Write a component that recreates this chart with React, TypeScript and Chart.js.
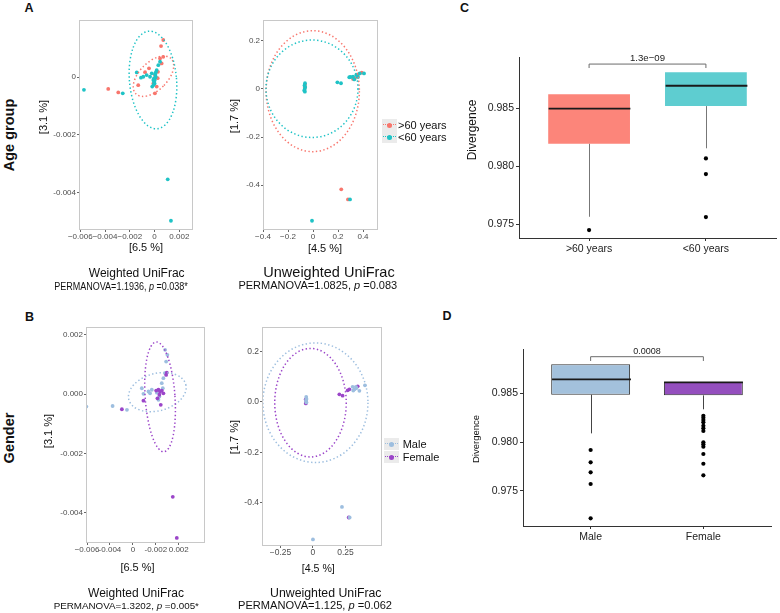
import React, { useEffect, useRef } from "react";
import { Chart, registerables } from "chart.js";
Chart.register(...registerables);

const FONT = "'Liberation Sans', Arial, Helvetica, sans-serif";

// ---------------- Panel A: age group, weighted UniFrac ----------------
const ageWOver60X = [-0.00374, -0.00293, 0.0007, 0.00052, 0.0007, 0.00044, 0.00027, -0.00045, 0.00003, 0.00025, -0.00132, -0.0001, 0.00017, 0.00003, 0.00057, -0.00077];
const ageWOver60Y = [-0.00041, -0.00053, 0.00128, 0.00107, 0.0007, 0.00064, 0.00018, 0.0003, 0.00007, -0.00004, -0.00028, -0.00022, -0.00033, -0.00056, 0.00047, 0.00017];
const ageWUnder60X = [-0.0057, -0.00257, -0.00144, -0.0011, -0.00091, -0.00064, -0.00037, -0.00023, -0.0001, 0.0, -0.00019, 0.00003, -0.00005, 0.00009, 0.00017, 0.0003, 0.00044, -0.00005, 0.0, -0.00008, 0.00005, 0.0001, 0.00106, 0.00132];
const ageWUnder60Y = [-0.00044, -0.00056, 0.00016, -0.00002, 0.00001, 0.00007, 0.00001, 0.00013, -0.0001, -0.00022, -0.00033, -0.00004, -0.00016, 0.00001, 0.00024, 0.00041, 0.00053, -0.00005, -0.00012, -0.00027, 0.0001, 0.00017, -0.00353, -0.00496];
const ageWXTicks = [-0.006, -0.004, -0.002, 0, 0.002];
const ageWXLabels = ["\u22120.006", "\u22120.004", "\u22120.002", "0", "0.002"];
const ageWYTicks = [0, -0.002, -0.004];
const ageWYLabels = ["0", "-0.002", "-0.004"];
// stat_ellipse summaries: [>60, <60]
const ageWEllCX = [-0.00009, -0.00013];
const ageWEllCY = [0.00003, -0.0001];
const ageWEllRX = [0.00113, 0.0019];
const ageWEllRY = [0.00086, 0.00169];
const ageWEllRot = [45, -5];

// ---------------- Panel A: age group, unweighted UniFrac ----------------
const ageUOver60X = [-0.066, -0.064, 0.334, 0.36, 0.32, 0.39, 0.226, 0.28];
const ageUOver60Y = [0.005, 0.018, 0.045, 0.061, 0.042, 0.068, -0.418, -0.46];
const ageUUnder60X = [-0.064, -0.068, -0.062, -0.066, -0.07, -0.065, 0.195, 0.224, 0.29, 0.32, 0.346, 0.374, 0.408, 0.33, 0.36, 0.3, 0.296, -0.008];
const ageUUnder60Y = [0.024, 0.015, 0.008, 0.0, -0.006, -0.011, 0.028, 0.024, 0.049, 0.051, 0.058, 0.065, 0.065, 0.04, 0.05, 0.05, -0.46, -0.549];
const ageUXTicks = [-0.4, -0.2, 0, 0.2, 0.4];
const ageUXLabels = ["\u22120.4", "\u22120.2", "0", "0.2", "0.4"];
const ageUYTicks = [0.2, 0, -0.2, -0.4];
const ageUYLabels = ["0.2", "0", "-0.2", "-0.4"];
const ageUEllCX = [-0.002, -0.008];
const ageUEllCY = [-0.009, 0.001];
const ageUEllRX = [0.373, 0.368];
const ageUEllRY = [0.252, 0.203];
const ageUEllRot = [0, 0];

// ---------------- Panel B: gender, weighted UniFrac ----------------
const genWMaleX = [-0.00606, -0.00377, -0.00252, -0.00122, -0.00108, -0.00064, -0.0005, -0.00035, 0.00009, 0.00023, 0.00031, 0.00052, 0.00061, 0.00066, 0.00081, 0.0009, 0.00101, 0.00081];
const genWMaleY = [-0.00042, -0.0004, -0.00053, 0.0002, 0.00001, 0.00009, 0.00003, 0.00015, 0.00005, -0.00019, -0.00008, 0.00037, 0.0002, 0.00054, 0.00071, 0.0011, 0.00133, 0.0015];
const genWFemaleX = [-0.00296, -0.00108, 0.00003, 0.00014, 0.00023, 0.00031, 0.00037, 0.00043, 0.00052, 0.00066, 0.0009, 0.00096, 0.00148, 0.00183];
const genWFemaleY = [-0.00051, -0.00022, 0.00012, -0.00014, 0.00015, -0.00002, 0.00009, -0.00036, 0.00012, 0.00003, 0.00065, 0.00073, -0.00347, -0.00486];
const genWXTicks = [-0.006, -0.004, -0.002, 0, 0.002];
const genWXLabels = ["\u22120.006", "-0.004", "0", "-0.002", "0.002"];
const genWYTicks = [0.002, 0, -0.002, -0.004];
const genWYLabels = ["0.002", "0.000", "-0.002", "-0.004"];
// [Male, Female]
const genWEllCX = [0.00013, 0.00037];
const genWEllCY = [0.00007, -0.00009];
const genWEllRX = [0.00257, 0.0013];
const genWEllRY = [0.00063, 0.00186];
const genWEllRot = [-15, -4];

// ---------------- Panel B: gender, unweighted UniFrac ----------------
const genUMaleX = [-0.052, -0.05, -0.054, -0.05, 0.305, 0.32, 0.335, 0.357, 0.31, 0.4, 0.33, 0.223, 0.282, 0.0];
const genUMaleY = [0.02, 0.012, 0.005, -0.002, 0.06, 0.05, 0.055, 0.044, 0.045, 0.066, 0.06, -0.416, -0.458, -0.545];
const genUFemaleX = [-0.055, -0.053, -0.056, 0.203, 0.228, 0.267, 0.28, 0.344, 0.275];
const genUFemaleY = [-0.006, 0.0, 0.01, 0.03, 0.025, 0.046, 0.05, 0.062, -0.458];
const genUXTicks = [-0.25, 0, 0.25];
const genUXLabels = ["\u22120.25", "0", "0.25"];
const genUYTicks = [0.2, 0, -0.2, -0.4];
const genUYLabels = ["0.2", "0.0", "-0.2", "-0.4"];
const genUEllCX = [0.019, -0.019];
const genUEllCY = [-0.003, -0.003];
const genUEllRX = [0.404, 0.275];
const genUEllRY = [0.237, 0.215];
const genUEllRot = [0, 0];

// ---------------- Panel C: divergence by age ----------------
const ageGroups = [">60 years", "<60 years"];
const ageQ1 = [0.98192, 0.98517];
const ageMedian = [0.98495, 0.98692];
const ageQ3 = [0.98618, 0.98808];
const ageWhiskerLow = [0.97563, 0.98153];
const ageWhiskerHigh = [0.98618, 0.98808];
const ageOutliersOver60 = [0.97448];
const ageOutliersUnder60 = [0.98066, 0.97931, 0.9756];
const agePLabel = "1.3e\u221209";

// ---------------- Panel D: divergence by gender ----------------
const genderGroups = ["Male", "Female"];
const genderQ1 = [0.98486, 0.98479];
const genderMedian = [0.98644, 0.98612];
const genderQ3 = [0.98798, 0.98616];
const genderWhiskerLow = [0.98089, 0.98336];
const genderWhiskerHigh = [0.98798, 0.98616];
const genderOutliersMale = [0.97918, 0.97792, 0.97689, 0.97569, 0.97217];
const genderOutliersFemale = [0.9827, 0.98249, 0.98226, 0.98202, 0.98167, 0.98141, 0.98113, 0.97997, 0.97976, 0.97952, 0.97877, 0.97777, 0.97658];
const genderPLabel = "0.0008";

const divTicks = [0.975, 0.98, 0.985];
const divLabels = ["0.975", "0.980", "0.985"];

// colours
const SALMON = "#F8766D";
const TEAL = "#1FC3C6";
const MALE = "#9DBEDF";
const FEMALE = "#9B45C9";

type Area = { l: number; t: number; r: number; b: number };
type Ell = { cx: number; cy: number; rx: number; ry: number; rot: number; color: string };

function buildEllipses(cx: number[], cy: number[], rx: number[], ry: number[], rot: number[], colors: string[]): Ell[] {
  return cx.map((v, i) => ({ cx: v, cy: cy[i], rx: rx[i], ry: ry[i], rot: rot[i], color: colors[i] }));
}

const PAD = { top: 8, right: 4, bottom: 4, left: 2 };

function ScatterPanel(props: {
  area: Area; xMin: number; xMax: number; yMin: number; yMax: number;
  xTicks: number[]; xLabels: string[]; yTicks: number[]; yLabels: string[];
  series: { xs: number[]; ys: number[]; color: string }[];
  ellipses: Ell[]; tickSize: number;
}) {
  const ref = useRef<HTMLCanvasElement>(null);
  const axW = 36, axH = 16;
  const { area } = props;
  const w = PAD.left + axW + (area.r - area.l) + PAD.right;
  const h = PAD.top + (area.b - area.t) + axH + PAD.bottom;
  const left = area.l - axW - PAD.left;
  const top = area.t - PAD.top;
  useEffect(() => {
    const decor = {
      id: "scatterDecor",
      afterDatasetsDraw(chart: any) {
        const { ctx, chartArea: a, scales } = chart;
        const xs = scales.x, ys = scales.y;
        ctx.save();
        ctx.beginPath();
        ctx.rect(a.left, a.top, a.right - a.left, a.bottom - a.top);
        ctx.clip();
        for (const e of props.ellipses) {
          const cx = xs.getPixelForValue(e.cx), cy = ys.getPixelForValue(e.cy);
          const rx = Math.abs(xs.getPixelForValue(e.cx + e.rx) - cx);
          const ry = Math.abs(ys.getPixelForValue(e.cy + e.ry) - cy);
          ctx.beginPath();
          ctx.ellipse(cx, cy, rx, ry, (e.rot * Math.PI) / 180, 0, Math.PI * 2);
          ctx.setLineDash([1.4, 2.4]);
          ctx.lineWidth = 1.5;
          ctx.strokeStyle = e.color;
          ctx.stroke();
        }
        ctx.restore();
        ctx.save();
        ctx.strokeStyle = "#C8C8C8";
        ctx.lineWidth = 1;
        ctx.strokeRect(a.left + 0.5, a.top + 0.5, a.right - a.left - 1, a.bottom - a.top - 1);
        ctx.restore();
      },
    };
    const tickFont = { family: FONT, size: props.tickSize };
    const chart = new Chart(ref.current as HTMLCanvasElement, {
      type: "scatter",
      data: {
        datasets: props.series.map((s) => ({
          data: s.xs.map((x, i) => ({ x, y: s.ys[i] })),
          backgroundColor: s.color,
          borderWidth: 0,
          pointRadius: 1.9,
        })),
      },
      options: {
        responsive: false,
        animation: false,
        events: [],
        layout: { padding: PAD },
        plugins: { legend: { display: false }, tooltip: { enabled: false } },
        scales: {
          x: {
            type: "linear", min: props.xMin, max: props.xMax,
            afterFit: (s: any) => { s.height = axH; s.paddingLeft = 0; s.paddingRight = 0; },
            afterBuildTicks: (s: any) => { s.ticks = props.xTicks.map((v) => ({ value: v })); },
            ticks: { autoSkip: false, maxRotation: 0, padding: 0, color: "#4D4D4D", font: tickFont, callback: (_v: any, i: number) => props.xLabels[i] },
            grid: { drawOnChartArea: false, drawTicks: true, tickLength: 2, tickColor: "#666" },
            border: { display: false },
          },
          y: {
            type: "linear", min: props.yMin, max: props.yMax,
            afterFit: (s: any) => { s.width = axW; s.paddingTop = 0; s.paddingBottom = 0; },
            afterBuildTicks: (s: any) => { s.ticks = props.yTicks.map((v) => ({ value: v })); },
            ticks: { autoSkip: false, padding: 1, color: "#4D4D4D", font: tickFont, callback: (_v: any, i: number) => props.yLabels[i] },
            grid: { drawOnChartArea: false, drawTicks: true, tickLength: 2, tickColor: "#666" },
            border: { display: false },
          },
        },
      } as any,
      plugins: [decor],
    });
    return () => chart.destroy();
  }, []);
  return <canvas ref={ref} width={w} height={h} style={{ position: "absolute", left, top, width: w, height: h }} />;
}

function BoxPanel(props: {
  area: Area; groups: string[]; q1: number[]; med: number[]; q3: number[]; wLo: number[]; wHi: number[];
  outliers: number[][]; fills: string[]; stroke: string | null; whisker: string;
  yMin: number; yMax: number; bracketY: number; bracketEnd: number; pLabel: string; pSize: number;
}) {
  const ref = useRef<HTMLCanvasElement>(null);
  const axW = 44, axH = 24;
  const { area } = props;
  const pad = { top: 12, right: 2, bottom: 4, left: 2 };
  const w = pad.left + axW + (area.r - area.l) + pad.right;
  const h = pad.top + (area.b - area.t) + axH + pad.bottom;
  const left = area.l - axW - pad.left;
  const top = area.t - pad.top;
  useEffect(() => {
    const decor = {
      id: "boxDecor",
      afterDatasetsDraw(chart: any) {
        const { ctx, scales } = chart;
        const xs = scales.x, ys = scales.y;
        const bars = chart.getDatasetMeta(0).data;
        ctx.save();
        props.groups.forEach((_g, i) => {
          const x = Math.round(xs.getPixelForValue(i + 1)) + 0.5;
          const hw = bars[i].width / 2;
          ctx.strokeStyle = props.whisker;
          ctx.lineWidth = 1;
          ctx.beginPath();
          ctx.moveTo(x, ys.getPixelForValue(props.q1[i]));
          ctx.lineTo(x, ys.getPixelForValue(props.wLo[i]));
          ctx.moveTo(x, ys.getPixelForValue(props.q3[i]));
          ctx.lineTo(x, ys.getPixelForValue(props.wHi[i]));
          ctx.stroke();
          ctx.strokeStyle = "#1a1a1a";
          ctx.lineWidth = 1.8;
          ctx.beginPath();
          const ym = ys.getPixelForValue(props.med[i]);
          ctx.moveTo(x - hw, ym);
          ctx.lineTo(x + hw, ym);
          ctx.stroke();
        });
        const x1 = xs.getPixelForValue(1), x2 = xs.getPixelForValue(2);
        const yb = ys.getPixelForValue(props.bracketY), ye = ys.getPixelForValue(props.bracketEnd);
        ctx.strokeStyle = "#6b6b6b";
        ctx.lineWidth = 1;
        ctx.beginPath();
        ctx.moveTo(x1, ye); ctx.lineTo(x1, yb); ctx.lineTo(x2, yb); ctx.lineTo(x2, ye);
        ctx.stroke();
        ctx.fillStyle = "#222";
        ctx.font = `${props.pSize}px ${FONT}`;
        ctx.textAlign = "center";
        ctx.textBaseline = "bottom";
        ctx.fillText(props.pLabel, (x1 + x2) / 2, yb - 1);
        ctx.restore();
      },
    };
    const tickFont = { family: FONT, size: 10.5 };
    const outlierData: { x: number; y: number }[] = [];
    props.outliers.forEach((arr, i) => arr.forEach((v) => outlierData.push({ x: i + 1, y: v })));
    const chart = new Chart(ref.current as HTMLCanvasElement, {
      type: "bar",
      data: {
        datasets: [
          {
            type: "bar",
            data: props.groups.map((_g, i) => ({ x: i + 1, y: [props.q1[i], props.q3[i]] })),
            backgroundColor: props.fills,
            borderColor: props.stroke || "rgba(0,0,0,0)",
            borderWidth: props.stroke ? 1 : 0,
            borderSkipped: false,
            barPercentage: 0.7,
            categoryPercentage: 1,
            grouped: false,
          },
          {
            type: "scatter",
            data: outlierData,
            backgroundColor: "#000",
            borderWidth: 0,
            pointRadius: 2.1,
          },
        ],
      },
      options: {
        responsive: false,
        animation: false,
        events: [],
        layout: { padding: pad },
        plugins: { legend: { display: false }, tooltip: { enabled: false } },
        scales: {
          x: {
            type: "linear", min: 0.4, max: 2.6, offset: false,
            afterFit: (s: any) => { s.height = axH; s.paddingLeft = 0; s.paddingRight = 0; },
            afterBuildTicks: (s: any) => { s.ticks = props.groups.map((_g, i) => ({ value: i + 1 })); },
            ticks: { autoSkip: false, maxRotation: 0, padding: 2, color: "#222", font: tickFont, callback: (_v: any, i: number) => props.groups[i] },
            grid: { offset: false, drawOnChartArea: false, drawTicks: true, tickLength: 3, tickColor: "#333" },
            border: { display: true, color: "#333", width: 1 },
          },
          y: {
            type: "linear", min: props.yMin, max: props.yMax,
            afterFit: (s: any) => { s.width = axW; s.paddingTop = 0; s.paddingBottom = 0; },
            afterBuildTicks: (s: any) => { s.ticks = divTicks.map((v) => ({ value: v })); },
            ticks: { autoSkip: false, padding: 2, color: "#222", font: tickFont, callback: (_v: any, i: number) => divLabels[i] },
            grid: { drawOnChartArea: false, drawTicks: true, tickLength: 3, tickColor: "#333" },
            border: { display: true, color: "#333", width: 1 },
          },
        },
      } as any,
      plugins: [decor],
    });
    return () => chart.destroy();
  }, []);
  return <canvas ref={ref} width={w} height={h} style={{ position: "absolute", left, top, width: w, height: h }} />;
}

function T(p: { x: number; y: number; size: number; bold?: boolean; rot?: boolean; sx?: number; children: React.ReactNode }) {
  const tr = `translate(-50%,-50%)${p.rot ? " rotate(-90deg)" : ""}${p.sx ? ` scaleX(${p.sx})` : ""}`;
  return (
    <div style={{ position: "absolute", left: p.x, top: p.y, transform: tr, fontSize: p.size, fontWeight: p.bold ? 700 : 400, whiteSpace: "nowrap", lineHeight: 1, color: "#111" }}>
      {p.children}
    </div>
  );
}

function LegendKey(p: { x: number; y: number; color: string }) {
  return (
    <div style={{ position: "absolute", left: p.x - 7.5, top: p.y - 6, width: 15, height: 12, background: "#EBEBEB" }}>
      <div style={{ position: "absolute", left: 1, right: 1, top: 5, borderTop: `1.5px dotted ${p.color}` }} />
      <div style={{ position: "absolute", left: 5, top: 3.5, width: 5, height: 5, borderRadius: "50%", background: p.color }} />
    </div>
  );
}

export default function App() {
  return (
    <div style={{ position: "fixed", left: 0, top: 0, width: 780, height: 613, background: "#fff", overflow: "hidden", fontFamily: FONT }}>
      <ScatterPanel
        area={{ l: 79, t: 20, r: 193, b: 230 }}
        xMin={-0.0061} xMax={0.0031} yMin={-0.00528} yMax={0.00197}
        xTicks={ageWXTicks} xLabels={ageWXLabels} yTicks={ageWYTicks} yLabels={ageWYLabels}
        series={[{ xs: ageWUnder60X, ys: ageWUnder60Y, color: TEAL }, { xs: ageWOver60X, ys: ageWOver60Y, color: SALMON }]}
        ellipses={buildEllipses(ageWEllCX, ageWEllCY, ageWEllRX, ageWEllRY, ageWEllRot, [SALMON, TEAL])}
        tickSize={8}
      />
      <ScatterPanel
        area={{ l: 263, t: 20, r: 378, b: 230 }}
        xMin={-0.4} xMax={0.52} yMin={-0.5875} yMax={0.2875}
        xTicks={ageUXTicks} xLabels={ageUXLabels} yTicks={ageUYTicks} yLabels={ageUYLabels}
        series={[{ xs: ageUUnder60X, ys: ageUUnder60Y, color: TEAL }, { xs: ageUOver60X, ys: ageUOver60Y, color: SALMON }]}
        ellipses={buildEllipses(ageUEllCX, ageUEllCY, ageUEllRX, ageUEllRY, ageUEllRot, [SALMON, TEAL])}
        tickSize={8}
      />
      <ScatterPanel
        area={{ l: 86, t: 327, r: 205, b: 543 }}
        xMin={-0.00609} xMax={0.00429} yMin={-0.00503} yMax={0.00227}
        xTicks={genWXTicks} xLabels={genWXLabels} yTicks={genWYTicks} yLabels={genWYLabels}
        series={[{ xs: genWFemaleX, ys: genWFemaleY, color: FEMALE }, { xs: genWMaleX, ys: genWMaleY, color: MALE }]}
        ellipses={buildEllipses(genWEllCX, genWEllCY, genWEllRX, genWEllRY, genWEllRot, [MALE, FEMALE])}
        tickSize={8}
      />
      <ScatterPanel
        area={{ l: 262, t: 327, r: 382, b: 546 }}
        xMin={-0.392} xMax={0.531} yMin={-0.571} yMax={0.297}
        xTicks={genUXTicks} xLabels={genUXLabels} yTicks={genUYTicks} yLabels={genUYLabels}
        series={[{ xs: genUMaleX, ys: genUMaleY, color: MALE }, { xs: genUFemaleX, ys: genUFemaleY, color: FEMALE }]}
        ellipses={buildEllipses(genUEllCX, genUEllCY, genUEllRX, genUEllRY, genUEllRot, [MALE, FEMALE])}
        tickSize={8.5}
      />
      <BoxPanel
        area={{ l: 519, t: 57, r: 778, b: 238 }}
        groups={ageGroups} q1={ageQ1} med={ageMedian} q3={ageQ3} wLo={ageWhiskerLow} wHi={ageWhiskerHigh}
        outliers={[ageOutliersOver60, ageOutliersUnder60]}
        fills={["#FC857A", "#5ECDD0"]} stroke={null} whisker="#777"
        yMin={0.9738} yMax={0.9894} bracketY={0.98879} bracketEnd={0.98845} pLabel={agePLabel} pSize={9.6}
      />
      <BoxPanel
        area={{ l: 523, t: 349, r: 773, b: 526 }}
        groups={genderGroups} q1={genderQ1} med={genderMedian} q3={genderQ3} wLo={genderWhiskerLow} wHi={genderWhiskerHigh}
        outliers={[genderOutliersMale, genderOutliersFemale]}
        fills={["#A3C1DC", "#944FBE"]} stroke="#333" whisker="#444"
        yMin={0.97138} yMax={0.98955} bracketY={0.98876} bracketEnd={0.98832} pLabel={genderPLabel} pSize={9}
      />

      {/* panel letters and row titles */}
      <T x={29} y={8} size={12.5} bold>A</T>
      <T x={29.5} y={317} size={12.5} bold>B</T>
      <T x={464.5} y={8} size={12.5} bold>C</T>
      <T x={447} y={316} size={12.5} bold>D</T>
      <T x={8.5} y={134.5} size={14.5} bold rot>Age group</T>
      <T x={8.5} y={438} size={14.5} bold rot>Gender</T>

      {/* A captions */}
      <T x={42.5} y={117} size={11} rot>[3.1 %]</T>
      <T x={146} y={246.5} size={11}>[6.5 %]</T>
      <T x={136.7} y={272.5} size={12}>Weighted UniFrac</T>
      <T x={120.8} y={286} size={11} sx={0.82}>PERMANOVA=1.1936, <i>p</i> =0.038*</T>
      <T x={234} y={116} size={11} rot>[1.7 %]</T>
      <T x={325} y={248} size={11}>[4.5 %]</T>
      <T x={329} y={272} size={14.5}>Unweighted UniFrac</T>
      <T x={317.8} y={285} size={11}>PERMANOVA=1.0825, <i>p</i> =0.083</T>

      {/* B captions */}
      <T x={48} y={431} size={11} rot>[3.1 %]</T>
      <T x={137.5} y={566.7} size={11}>[6.5 %]</T>
      <T x={136} y={593.3} size={12}>Weighted UniFrac</T>
      <T x={126.3} y={606} size={9.8}>PERMANOVA=1.3202, <i>p</i> =0.005*</T>
      <T x={234} y={437} size={11} rot>[1.7 %]</T>
      <T x={318.3} y={568.3} size={10.6}>[4.5 %]</T>
      <T x={325.8} y={593} size={12.3}>Unweighted UniFrac</T>
      <T x={315} y={606} size={11.1}>PERMANOVA=1.125, <i>p</i> =0.062</T>

      {/* legends */}
      <LegendKey x={389} y={125} color={SALMON} />
      <LegendKey x={389} y={137} color={TEAL} />
      <div style={{ position: "absolute", left: 398, top: 119, fontSize: 11, lineHeight: "12px", color: "#111" }}>&gt;60 years<br />&lt;60 years</div>
      <LegendKey x={391} y={444} color={MALE} />
      <LegendKey x={391} y={457} color={FEMALE} />
      <div style={{ position: "absolute", left: 402.7, top: 438, fontSize: 11, lineHeight: "13px", color: "#111" }}>Male<br />Female</div>

      {/* box plot y titles */}
      <T x={471.7} y={130} size={12} rot>Divergence</T>
      <T x={475.8} y={439} size={9.5} rot>Divergence</T>
    </div>
  );
}
